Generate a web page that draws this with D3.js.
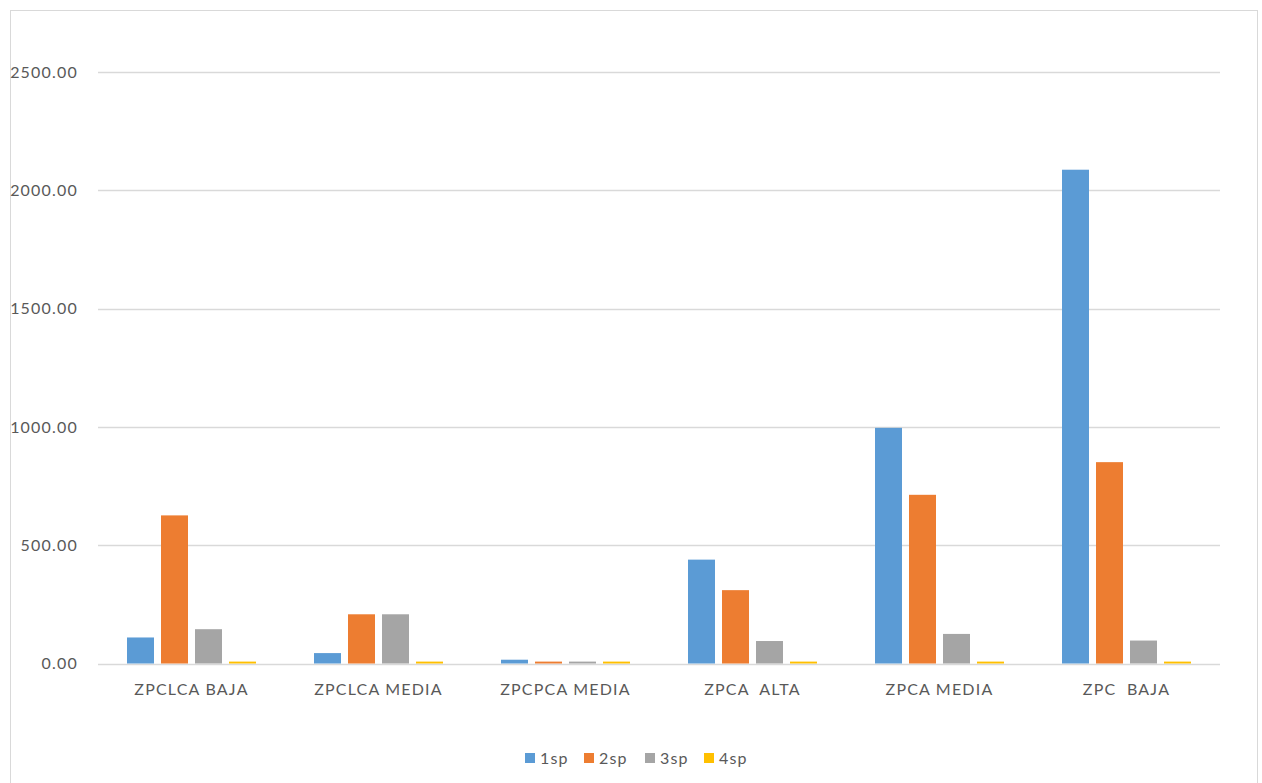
<!DOCTYPE html>
<html>
<head>
<meta charset="utf-8">
<script src="https://cdn.jsdelivr.net/npm/d3@7"></script>
<style>
  html, body { margin: 0; padding: 0; background: #fff; }
  svg text { font-family: Lato, "Open Sans", "Liberation Sans", sans-serif; fill: #595959; white-space: pre; letter-spacing: 1.2px; }
</style>
</head>
<body>
<svg id="chart" width="1262" height="783"></svg>
<script>
const categories = ["ZPCLCA BAJA", "ZPCLCA MEDIA", "ZPCPCA MEDIA", "ZPCA  ALTA", "ZPCA MEDIA", "ZPC  BAJA"];
const seriesNames = ["1sp", "2sp", "3sp", "4sp"];
const sp1 = [110, 44, 16, 439, 996, 2087];
const sp2 = [626, 208, 8, 310, 713, 851];
const sp3 = [145, 208, 8, 95, 125, 97];
const sp4 = [8, 8, 8, 8, 8, 8];
const yTicks = [0, 500, 1000, 1500, 2000, 2500];
const colors = ["#5B9BD5", "#ED7D31", "#A5A5A5", "#FFC000"];

const seriesValues = [sp1, sp2, sp3, sp4];
const rows = categories.map((c, i) => ({
  cat: c,
  vals: seriesNames.map((s, j) => ({ key: s, value: seriesValues[j][i] }))
}));

const svg = d3.select("#chart");

// outer chart border
svg.append("rect")
  .attr("x", 10.5).attr("y", 10.5)
  .attr("width", 1247).attr("height", 790)
  .attr("fill", "none").attr("stroke", "#D9D9D9");

const plot = { left: 98, right: 1220, top: 72, bottom: 663.5 };

const x = d3.scaleBand().domain(categories).range([plot.left, plot.right]).paddingInner(0).paddingOuter(0);
const xInner = d3.scaleBand().domain(seriesNames).range([0, x.bandwidth()]).paddingInner(0.206).paddingOuter(0.853);
const y = d3.scaleLinear().domain([0, 2500]).range([plot.bottom, plot.top]);

// horizontal gridlines + y labels
const yAxis = d3.axisLeft(y).tickValues(yTicks).tickFormat(d3.format(".2f")).tickSize(0).tickPadding(20);
const gy = svg.append("g").attr("transform", `translate(${plot.left},0)`).call(yAxis);
gy.select(".domain").remove();
gy.selectAll("text").attr("font-size", 16).attr("fill", "#595959");
svg.append("g").selectAll("line").data(yTicks).join("line")
  .attr("x1", plot.left).attr("x2", plot.right)
  .attr("y1", d => Math.round(y(d)) + 0.5).attr("y2", d => Math.round(y(d)) + 0.5)
  .attr("stroke", "#D9D9D9").attr("stroke-width", 1.3);

// bars
const groups = svg.append("g").selectAll("g").data(rows).join("g")
  .attr("transform", d => `translate(${x(d.cat)},0)`);
groups.selectAll("rect").data(d => d.vals).join("rect")
  .attr("x", d => xInner(d.key))
  .attr("width", xInner.bandwidth())
  .attr("y", d => y(d.value))
  .attr("height", d => y(0) - y(d.value))
  .attr("fill", (d, i) => colors[i]);

// category axis
const xAxis = d3.axisBottom(x).tickSize(0).tickPadding(20);
const gx = svg.append("g").attr("transform", `translate(0,${plot.bottom})`).call(xAxis);
gx.select(".domain").remove();
gx.selectAll("text").attr("font-size", 16).attr("fill", "#595959");

// legend
const legendX = [525, 584, 645, 704];
const legend = svg.append("g").selectAll("g").data(seriesNames).join("g")
  .attr("transform", (d, i) => `translate(${legendX[i]},758)`);
legend.append("rect").attr("x", 0).attr("y", -5).attr("width", 10).attr("height", 10)
  .attr("fill", (d, i) => colors[i]);
legend.append("text").attr("x", 15).attr("y", 0).attr("dy", "0.35em")
  .attr("font-size", 16).text(d => d);
</script>
</body>
</html>
